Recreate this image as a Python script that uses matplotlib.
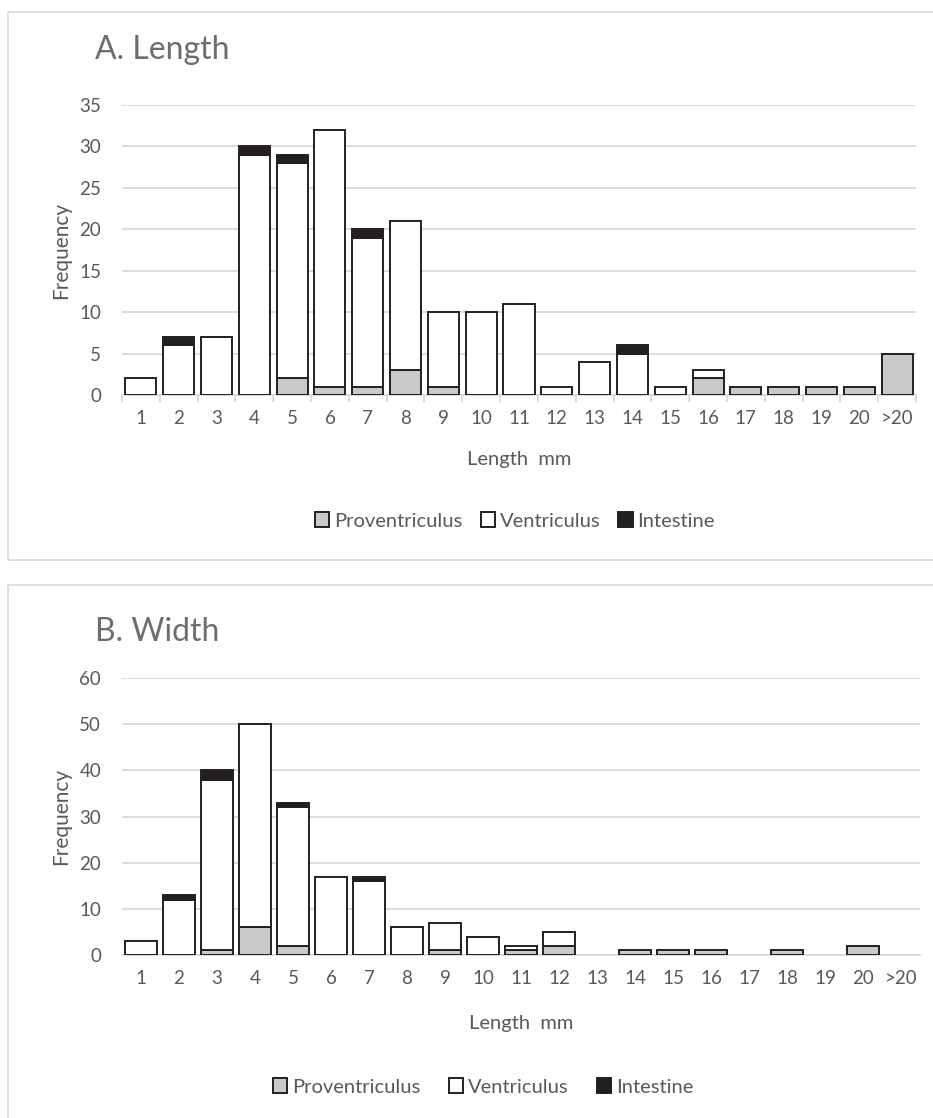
import numpy as np
import matplotlib
matplotlib.use('Agg')
import matplotlib.pyplot as plt
from matplotlib.patches import Patch, Rectangle

plt.rcParams['font.family'] = ['Lato', 'DejaVu Sans']

categories = [str(i) for i in range(1, 21)] + ['>20']

# panel A: length
len_prov = [0, 0, 0, 0, 2, 1, 1, 3, 1, 0, 0, 0, 0, 0, 0, 2, 1, 1, 1, 1, 5]
len_vent = [2, 6, 7, 29, 26, 31, 18, 18, 9, 10, 11, 1, 4, 5, 1, 1, 0, 0, 0, 0, 0]
len_int = [0, 1, 0, 1, 1, 0, 1, 0, 0, 0, 0, 0, 0, 1, 0, 0, 0, 0, 0, 0, 0]

# panel B: width
wid_prov = [0, 0, 1, 6, 2, 0, 0, 0, 1, 0, 1, 2, 0, 1, 1, 1, 0, 1, 0, 2, 0]
wid_vent = [3, 12, 37, 44, 30, 17, 16, 6, 6, 4, 1, 3, 0, 0, 0, 0, 0, 0, 0, 0, 0]
wid_int = [0, 1, 2, 0, 1, 0, 1, 0, 0, 0, 0, 0, 0, 0, 0, 0, 0, 0, 0, 0, 0]

W, H = 933, 1118
TXT = '#595959'
GRID = '#d9d9d9'
EDGE = '#231f20'
GRAY = '#c8c9cb'
BLACK = '#231f20'

fig = plt.figure(figsize=(W / 100, H / 100), dpi=100)


def fx(px):
    return px / W


def fy(py):
    return 1 - py / H


# panel borders
fig.patches.append(Rectangle((fx(8), fy(560)), fx(940) - fx(8), fy(12) - fy(560),
                             transform=fig.transFigure, fill=False, edgecolor=GRID, lw=1.2))
fig.patches.append(Rectangle((fx(8), fy(1130)), fx(940) - fx(8), fy(585) - fy(1130),
                             transform=fig.transFigure, fill=False, edgecolor=GRID, lw=1.2))


def panel(top, bottom, left, right, prov, vent, inte, ymax, step, title, title_y,
          xlabel_y, legend_x, legend_y, colspace, tickmarks):
    ax = fig.add_axes([fx(left), fy(bottom), fx(right) - fx(left), fy(top) - fy(bottom)])
    x = np.arange(len(categories))
    prov = np.array(prov)
    vent = np.array(vent)
    inte = np.array(inte)
    w = 0.82
    kw = dict(width=w, edgecolor=EDGE, linewidth=1.4, zorder=3)
    ax.bar(x, prov, color=GRAY, **kw)
    ax.bar(x, vent, bottom=prov, color='white', **kw)
    ax.bar(x, inte, bottom=prov + vent, color=BLACK, **kw)
    # hide the edges of zero-height segments
    for c in ax.containers:
        for r in c:
            if r.get_height() == 0:
                r.set_visible(False)
    ax.set_xlim(-0.5, len(categories) - 0.5)
    ax.set_ylim(0, ymax)
    ax.set_yticks(np.arange(0, ymax + 1, step))
    ax.yaxis.grid(True, color=GRID, lw=1.3, zorder=0)
    ax.set_axisbelow(True)
    for s in ['top', 'right', 'left']:
        ax.spines[s].set_visible(False)
    ax.spines['bottom'].set_color(GRID)
    ax.spines['bottom'].set_linewidth(1.3)
    ax.set_xticks(x)
    ax.set_xticklabels(categories)
    ax.tick_params(axis='x', length=0, pad=11, labelsize=13.5, labelcolor=TXT)
    ax.tick_params(axis='y', length=0, pad=15, labelsize=13.5, labelcolor=TXT)
    if tickmarks:
        ax.set_xticks(np.arange(-0.5, len(categories), 1), minor=True)
        ax.tick_params(axis='x', which='minor', length=5, width=1.3, color=GRID)
    ax.set_ylabel('Frequency', fontsize=15, color=TXT, labelpad=6)
    fig.text(fx(95), fy(title_y), title, fontsize=23, color='#6e6e6e', va='center', ha='left')
    fig.text(fx((left + right) / 2), fy(xlabel_y), 'Length  mm', fontsize=14.5, color=TXT,
             ha='center', va='center')
    handles = [Patch(facecolor=GRAY, edgecolor=EDGE, lw=1.4, label='Proventriculus'),
               Patch(facecolor='white', edgecolor=EDGE, lw=1.4, label='Ventriculus'),
               Patch(facecolor=BLACK, edgecolor=EDGE, lw=1.4, label='Intestine')]
    leg = fig.legend(handles=handles, loc='center', bbox_to_anchor=(fx(legend_x), fy(legend_y)),
                     ncol=3, frameon=False, fontsize=14.5, handlelength=0.7, handleheight=0.7,
                     handletextpad=0.25, columnspacing=colspace)
    for t in leg.get_texts():
        t.set_color(TXT)
    return ax


panel(105, 395, 122, 916, len_prov, len_vent, len_int, 35, 5, 'A. Length', 50, 460, 515, 521, 0.9, True)
panel(678, 955, 122, 920, wid_prov, wid_vent, wid_int, 60, 10, 'B. Width', 632, 1023, 483, 1087, 1.4, False)

fig.savefig('out.png', dpi=100)
